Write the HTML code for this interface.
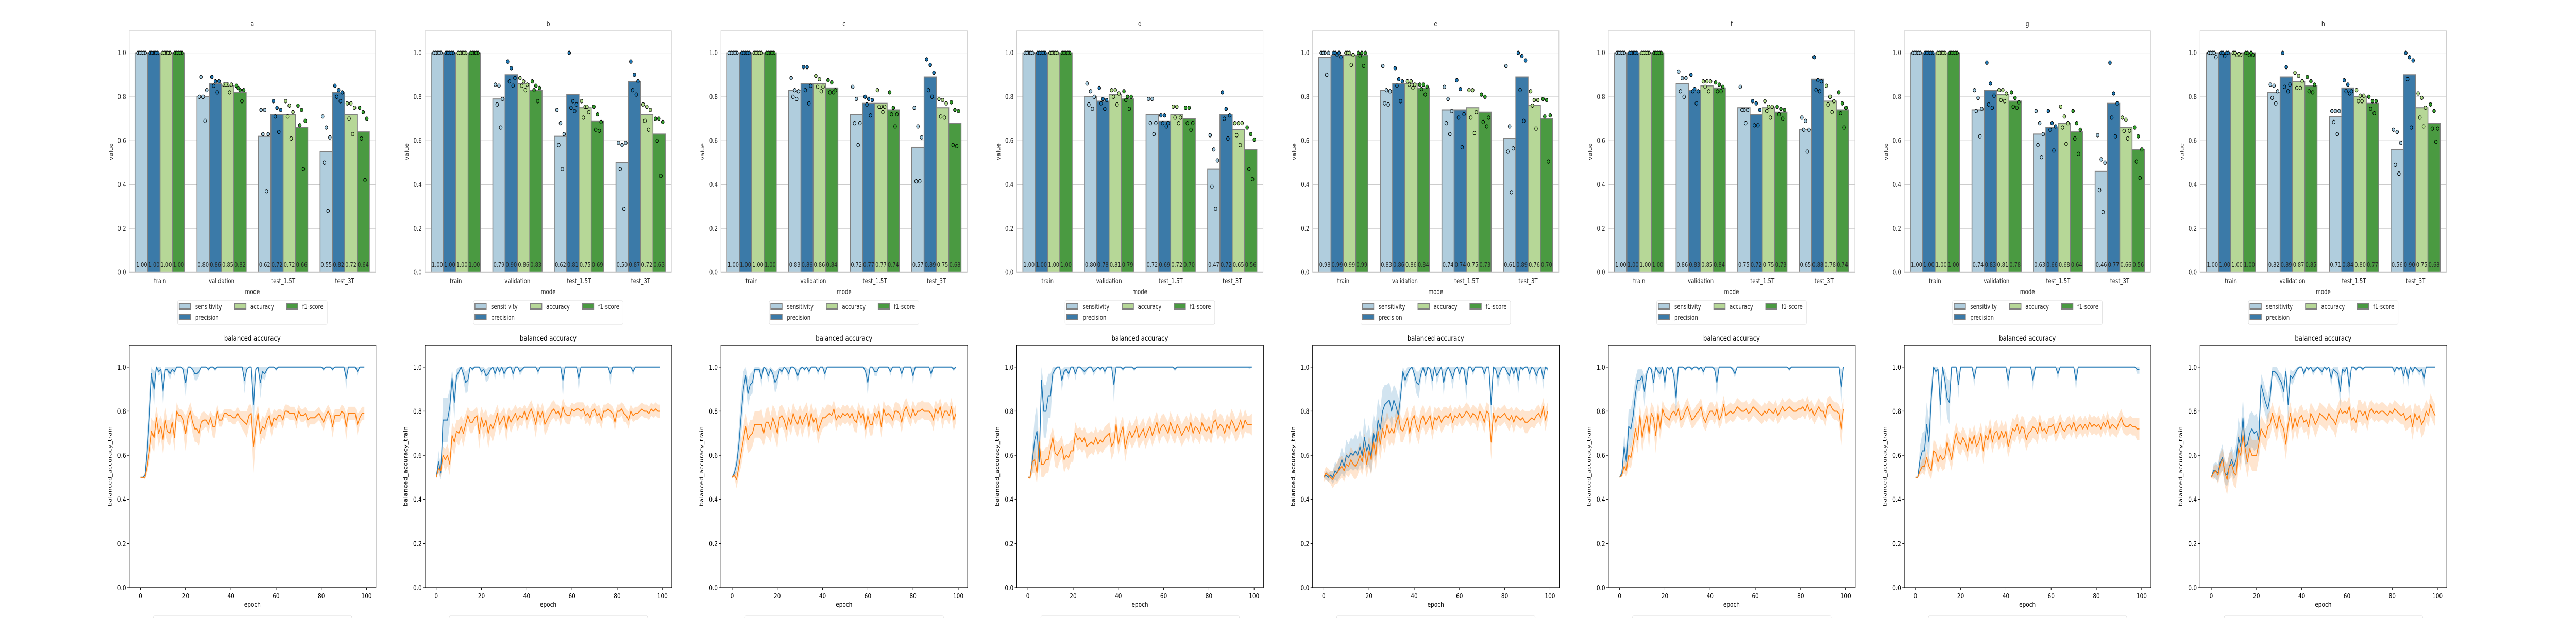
<!DOCTYPE html>
<html><head><meta charset="utf-8"><title>Metrics</title>
<style>
html,body{margin:0;padding:0;background:#fff;overflow:hidden;width:100vw;height:100vh;}
svg{display:block;width:100vw;height:100vh;font-family:"DejaVu Sans","Liberation Sans",sans-serif;}
</style></head>
<body>
<svg id="fig" viewBox="0 0 6400 1200" preserveAspectRatio="none" xmlns="http://www.w3.org/2000/svg"></svg>
<script>
// ---------- data ----------
const panelTitles = ['a','b','c','d','e','f','g','h'];
const modes = ['train','validation','test_1.5T','test_3T'];
const metrics = ['sensitivity','precision','accuracy','f1-score'];
const epochTicks = [0,20,40,60,80,100];
const valueTicks = ['0.0','0.2','0.4','0.6','0.8','1.0'];

// bar means per panel: [metric][mode]
const sensMeans = [[1,.80,.62,.55],[1,.79,.62,.50],[1,.83,.72,.57],[1,.80,.72,.47],[.98,.83,.74,.61],[1,.86,.75,.65],[1,.74,.63,.46],[1,.82,.71,.56]];
const precMeans = [[1,.86,.72,.82],[1,.90,.81,.87],[1,.86,.77,.89],[1,.78,.69,.72],[.99,.86,.74,.89],[1,.83,.72,.88],[1,.83,.66,.77],[1,.89,.84,.90]];
const accMeans  = [[1,.85,.72,.72],[1,.86,.75,.72],[1,.86,.77,.75],[1,.81,.72,.65],[.99,.86,.75,.76],[1,.85,.75,.78],[1,.81,.68,.66],[1,.87,.80,.75]];
const f1Means   = [[1,.82,.66,.64],[1,.83,.69,.63],[1,.84,.74,.68],[1,.79,.70,.56],[.99,.84,.73,.70],[1,.84,.73,.74],[1,.78,.64,.56],[1,.85,.77,.68]];

// individual fold points: [panel][mode][5]
const T=[1,1,1,1,1];
const sensDots = [
 [T,[.80,.80,.83,.89,.69],[.74,.74,.63,.63,.37],[.71,.66,.615,.50,.28]],
 [T,[.855,.85,.79,.765,.66],[.74,.68,.63,.58,.47],[.59,.58,.59,.47,.29]],
 [T,[.885,.83,.825,.80,.79],[.845,.79,.68,.68,.58],[.75,.665,.615,.415,.415]],
 [T,[.86,.825,.80,.765,.745],[.79,.79,.68,.68,.63],[.625,.56,.51,.39,.29]],
 [[1,1,1,1,.90],[.94,.83,.825,.77,.765],[.845,.79,.735,.68,.63],[.94,.665,.565,.55,.365]],
 [T,[.915,.885,.885,.825,.80],[.845,.74,.74,.74,.68],[.705,.69,.65,.65,.55]],
 [T,[.83,.795,.745,.735,.62],[.735,.68,.63,.58,.525],[.625,.515,.50,.375,.275]],
 [[1,1,.98,1,1],[.855,.85,.825,.795,.77],[.735,.735,.735,.685,.63],[.65,.64,.59,.49,.45]]];
const precDots = [
 [T,[.89,.87,.87,.85,.82],[.78,.75,.74,.71,.64],[.85,.83,.82,.80,.78]],
 [T,[.96,.93,.885,.87,.85],[1.0,.78,.765,.75,.735],[.96,.90,.87,.83,.81]],
 [T,[.935,.935,.85,.83,.77],[.80,.79,.785,.765,.715],[.97,.945,.91,.83,.80]],
 [T,[.84,.79,.785,.77,.745],[.715,.715,.68,.68,.665],[.82,.745,.715,.70,.61]],
 [[1,.99,.98,1,1],[.93,.88,.87,.85,.78],[.875,.835,.72,.705,.57],[1.0,.985,.965,.83,.69]],
 [T,[.90,.835,.825,.825,.77],[.78,.77,.74,.67,.67],[.98,.875,.87,.83,.825]],
 [T,[.955,.86,.805,.765,.75],[.735,.68,.665,.65,.555],[.955,.815,.77,.705,.62]],
 [[1,.985,1,1,1],[1.0,.935,.855,.845,.825],[.875,.855,.825,.825,.815],[1.0,.98,.965,.88,.66]]];
const accDots = [
 [T,[.855,.855,.855,.855,.82],[.78,.76,.73,.71,.61],[.77,.77,.75,.70,.63]],
 [T,[.885,.87,.855,.85,.83],[.78,.755,.73,.705,.755],[.765,.755,.74,.69,.65]],
 [T,[.895,.88,.845,.845,.825],[.83,.755,.755,.755,.73],[.79,.785,.77,.71,.705]],
 [T,[.83,.83,.815,.80,.765],[.755,.755,.705,.705,.68],[.68,.68,.68,.625,.58]],
 [[1,1,.99,1,.945],[.87,.87,.855,.855,.84],[.83,.83,.73,.705,.635],[.825,.785,.785,.76,.655]],
 [T,[.87,.87,.87,.845,.825],[.78,.755,.755,.735,.705],[.85,.80,.78,.765,.73]],
 [T,[.83,.83,.815,.785,.78],[.755,.71,.68,.66,.585],[.705,.695,.645,.645,.61]],
 [[1,.99,.99,1,.995],[.91,.895,.87,.84,.84],[.83,.805,.805,.78,.78],[.815,.795,.75,.705,.665]]];
const f1Dots = [
 [T,[.85,.83,.83,.84,.78],[.76,.74,.69,.67,.47],[.75,.73,.70,.61,.42]],
 [T,[.87,.85,.84,.83,.78],[.755,.72,.685,.65,.645],[.70,.70,.685,.60,.44]],
 [T,[.875,.865,.83,.82,.82],[.82,.75,.72,.72,.665],[.775,.74,.735,.58,.575]],
 [T,[.825,.80,.80,.785,.745],[.75,.75,.68,.68,.65],[.66,.63,.605,.47,.425]],
 [[1,1,1,.985,.94],[.855,.855,.845,.835,.81],[.81,.80,.705,.685,.665],[.79,.785,.715,.71,.505]],
 [T,[.865,.855,.845,.825,.825],[.755,.745,.74,.72,.70],[.82,.77,.75,.725,.66]],
 [T,[.82,.795,.775,.755,.75],[.735,.68,.65,.61,.54],[.66,.62,.56,.505,.43]],
 [[1,.99,.99,1,1],[.89,.87,.855,.825,.82],[.80,.78,.78,.745,.725],[.765,.735,.655,.655,.595]]];

// training curves (percent): train = blue, validation = orange; ci = half band width
const trainA=[50,50,51,62,78,97,90,100,98,99, 89,99,99,97,99,98,100,100,100,99, 93,100,100,99,97,97,98,100,100,100, 99,100,100,99,100,100,100,100,100,100, 100,100,100,100,100,100,94,99,100,100, 83,99,100,93,98,97,99,100,100,100, 99,100,100,100,100,100,100,100,100,100, 100,100,100,100,100,100,100,100,100,100, 100,99,100,100,100,99,100,100,100,100, 100,95,100,100,100,100,98,100,100,100];
const trainCiA=[0,0,1,8,10,3,8,1,2,2, 7,1,1,3,1,2,0,0,0,1, 6,0,0,1,3,3,2,0,0,0, 1,0,0,1,0,0,0,0,0,0, 0,0,0,0,0,0,6,1,0,0, 12,1,0,7,3,3,1,0,0,0, 1,0,0,0,0,0,0,0,0,0, 0,0,0,0,0,0,0,0,0,0, 0,1,0,0,0,1,0,0,0,0, 0,5,0,0,0,0,2,0,0,0];
const valA=[50,50,50,55,62,71,68,77,70,73, 67,76,71,70,75,68,80,78,78,76, 70,77,80,75,72,72,70,75,76,76, 74,77,73,73,80,76,76,79,79,78, 78,77,77,79,77,76,75,74,78,79, 64,73,79,70,73,72,76,78,73,77, 76,78,78,76,80,80,79,79,79,76, 80,78,78,79,76,77,77,77,78,79, 77,75,78,80,78,73,78,78,78,80, 79,73,79,79,79,79,74,77,79,79];
const valCiA=[0,0,1,3,5,6,7,5,6,5, 7,6,5,6,5,6,4,3,3,4, 8,4,4,5,6,6,6,4,4,3, 4,3,5,5,3,3,3,2,2,3, 3,3,3,3,3,4,5,6,5,4, 12,6,4,5,5,5,4,4,5,4, 4,3,3,4,3,3,3,3,3,4, 3,3,3,3,4,3,3,3,3,3, 3,4,3,3,3,5,3,3,3,3, 3,6,3,3,3,3,5,3,3,3];

const trainB=[50,57,52,76,76,76,82,95,84,96, 98,100,97,93,94,100,99,100,100,100, 98,99,96,97,99,100,97,100,98,100, 97,99,100,100,97,100,100,98,99,100, 100,100,100,100,100,98,100,100,100,100, 100,100,100,100,100,100,94,100,100,100, 100,100,100,95,100,100,100,100,100,100, 100,100,100,100,100,100,100,97,100,100, 100,100,100,100,100,100,100,98,100,100, 100,100,100,100,100,100,100,100,100,100];
const trainCiB=[0,5,3,10,10,10,8,4,8,3, 2,0,3,5,5,0,1,0,0,0, 2,1,3,3,1,0,3,0,2,0, 3,1,0,0,3,0,0,2,1,0, 0,0,0,0,0,2,0,0,0,0, 0,0,0,0,0,0,8,0,0,0, 0,0,0,6,0,0,0,0,0,0, 0,0,0,0,0,0,0,5,0,0, 0,0,0,0,0,0,0,2,0,0, 0,0,0,0,0,0,0,0,0,0];
const valB=[50,54,53,60,58,60,56,69,66,71, 70,73,70,74,78,75,75,77,78,70, 77,73,76,70,74,72,75,79,74,76, 78,72,78,75,77,79,76,78,77,80, 76,79,81,78,74,80,77,80,74,76, 78,80,81,79,80,77,82,79,78,78, 81,80,81,81,80,81,78,79,77,80, 81,78,79,76,80,80,81,80,79,75, 80,80,81,79,78,76,80,78,79,79, 80,81,80,80,79,81,80,81,80,80];
const valCiB=[0,2,3,4,5,5,5,6,6,5, 6,5,6,5,4,5,5,4,4,7, 5,6,5,7,5,6,5,4,5,4, 4,6,4,5,4,4,5,4,4,3, 5,4,4,4,6,4,4,4,5,5, 4,4,4,4,3,4,4,4,4,4, 3,3,3,3,4,3,4,4,4,3, 3,4,4,4,3,3,3,3,3,4, 3,3,3,4,3,4,3,3,3,3, 3,3,3,3,3,3,3,3,3,3];

const trainC=[50,52,56,65,78,90,96,88,92,93, 99,99,99,95,100,99,96,99,97,93, 95,99,98,100,99,97,100,100,99,96, 99,100,99,100,98,100,100,100,98,100, 100,97,100,100,100,100,100,100,100,100, 100,100,100,100,100,100,100,100,100,98, 93,100,100,98,98,100,100,100,100,100, 98,100,100,100,100,97,100,100,100,100, 96,100,100,100,100,100,100,100,97,100, 100,100,100,100,100,100,100,100,99,100];
const trainCiC=[0,2,4,8,10,8,4,6,5,5, 1,1,1,4,0,1,3,1,2,5, 4,1,2,0,1,3,0,0,1,3, 1,0,1,0,2,0,0,0,2,0, 0,3,0,0,0,0,0,0,0,0, 0,0,0,0,0,0,0,0,0,2, 6,0,0,2,2,0,0,0,0,0, 2,0,0,0,0,3,0,0,0,0, 4,0,0,0,0,0,0,0,3,0, 0,0,0,0,0,0,0,0,1,0];
const valC=[50,51,49,55,61,67,73,67,69,70, 74,74,74,74,70,75,75,72,77,74, 70,77,78,76,72,77,74,79,76,74, 78,74,77,79,73,79,75,77,71,74, 77,77,78,79,78,81,76,78,77,79, 78,79,77,79,76,75,80,77,79,72, 78,74,74,79,77,80,73,81,78,79, 78,76,80,80,79,75,80,82,79,77, 81,78,80,80,81,80,80,80,79,76, 81,79,82,77,80,80,78,82,76,79];
const valCiC=[0,1,4,4,6,6,6,6,7,6, 6,6,6,7,6,6,7,6,6,7, 7,5,5,5,6,5,5,5,5,6, 5,6,5,5,6,5,5,5,6,5, 5,4,5,4,4,4,5,4,4,4, 4,4,4,4,5,5,4,4,4,5, 4,5,5,4,4,4,5,4,4,4, 4,4,4,4,4,5,4,4,4,4, 4,4,4,4,4,4,4,4,4,5, 4,4,4,5,4,4,4,4,5,4];

const trainD=[50,50,58,67,71,57,94,80,80,87, 87,97,99,100,100,94,98,99,97,100, 100,97,100,100,99,98,99,100,100,98, 99,100,99,100,98,100,100,100,92,100, 100,100,99,100,100,100,100,99,100,100, 100,100,100,100,100,100,100,100,100,100, 100,100,100,100,100,99,100,100,100,100, 100,100,100,100,100,100,100,100,100,100, 100,100,100,100,100,100,100,100,100,100, 100,100,100,100,100,100,100,100,100,100];
const trainCiD=[0,0,6,10,12,7,6,12,12,10, 10,3,1,0,0,5,2,1,3,0, 0,3,0,0,1,2,1,0,0,2, 1,0,1,0,2,0,0,0,8,0, 0,0,1,0,0,0,0,1,0,0, 0,0,0,0,0,0,0,0,0,0, 0,0,0,0,0,1,0,0,0,0, 0,0,0,0,0,0,0,0,0,0, 0,0,0,0,0,0,0,0,0,0, 0,0,0,0,0,0,0,0,1,0];
const valD=[50,50,57,58,52,66,56,56,58,58, 63,68,61,60,62,64,58,60,59,62, 62,70,67,68,66,68,64,65,66,65, 68,65,67,66,68,69,70,64,66,74, 65,70,73,63,68,71,68,70,73,68, 70,72,68,71,73,69,72,75,70,73, 74,72,70,75,72,70,74,72,69,71, 73,71,75,70,73,72,70,75,72,71, 73,70,75,76,72,74,73,70,74,72, 76,74,71,73,76,72,76,74,74,74];
const valCiD=[0,1,5,6,5,7,6,6,6,6, 6,5,6,6,5,5,6,5,6,5, 5,5,5,5,5,5,6,5,5,5, 5,5,5,5,5,5,5,6,5,5, 5,5,5,6,5,5,5,5,5,5, 5,5,5,5,5,5,5,5,5,5, 5,5,5,5,5,5,5,5,5,5, 5,5,5,5,5,5,5,5,5,5, 5,5,5,5,5,5,5,5,5,5, 5,5,5,5,5,5,5,4,4,5];

const trainE=[50,51,50,51,50,53,52,55,58,55, 60,59,61,60,62,60,64,60,68,62, 65,59,70,66,76,72,80,83,84,85, 80,85,82,78,87,98,94,97,99,100, 97,93,92,97,100,96,100,99,94,100, 96,98,100,93,98,100,98,95,99,100, 97,100,99,92,100,100,98,100,100,100, 100,97,100,100,83,100,99,95,98,100, 100,98,96,100,97,100,94,100,99,100, 100,97,100,99,96,99,100,95,100,99];
const trainCiE=[0,2,2,2,3,4,4,5,6,5, 7,6,7,7,8,7,8,7,9,8, 9,8,9,9,10,9,10,9,8,8, 8,7,8,8,6,2,4,3,1,0, 3,5,6,3,0,4,0,1,5,0, 4,2,0,6,2,0,2,5,1,0, 3,0,1,7,0,0,2,0,0,0, 0,3,0,0,8,0,1,5,2,0, 0,2,4,0,3,0,6,0,1,0, 0,3,0,1,4,1,0,5,0,1];
const valE=[50,52,51,50,49,51,52,54,55,53, 56,55,58,56,55,57,60,57,63,56, 62,58,66,60,71,65,72,68,74,70, 72,70,75,78,72,71,74,77,70,76, 78,73,71,76,78,74,76,78,72,77, 76,78,75,77,78,77,79,75,78,77, 79,77,78,80,79,77,79,78,76,80, 78,75,80,79,66,79,75,78,77,78, 79,77,76,78,75,78,77,76,77,75, 75,76,77,76,78,79,77,82,76,80];
const valCiE=[2,3,3,3,4,4,5,5,5,5, 5,5,6,6,6,6,6,6,7,6, 7,7,7,7,7,7,7,7,6,6, 6,6,5,5,6,5,5,5,6,5, 5,5,6,5,5,5,5,5,5,5, 5,4,5,5,4,4,4,5,4,4, 4,4,4,4,4,4,4,4,5,4, 4,5,4,4,8,4,5,4,4,4, 4,4,5,4,5,4,4,4,4,5, 5,4,4,4,4,4,4,4,5,4];

const trainF=[50,52,64,57,73,72,78,88,94,94, 96,89,97,100,99,93,100,98,97,100, 93,100,99,100,96,86,100,100,100,99, 100,100,99,100,100,99,100,98,100,100, 100,100,99,93,100,100,100,100,100,100, 99,97,100,100,100,100,100,100,100,100, 100,100,100,100,100,100,100,100,100,100, 100,100,100,100,100,99,100,100,100,100, 100,100,100,100,100,100,100,100,100,100, 100,100,100,100,100,100,100,100,91,100];
const trainCiF=[0,2,6,5,8,9,9,7,5,5, 3,7,2,0,1,5,0,2,3,0, 5,0,1,0,3,10,0,0,0,1, 0,0,1,0,0,1,0,2,0,0, 0,0,1,7,0,0,0,0,0,0, 1,2,0,0,0,0,0,0,0,0, 0,0,0,0,0,0,0,0,0,0, 0,0,0,0,0,1,0,0,0,0, 0,0,0,0,0,0,0,0,0,0, 0,0,0,0,0,0,0,0,8,0];
const valF=[50,51,55,53,60,59,65,72,67,78, 68,74,78,70,79,77,69,79,72,81, 78,77,76,79,80,78,81,76,77,80, 82,79,76,77,79,80,82,77,75,78, 80,80,78,81,76,78,83,78,79,80, 79,80,82,81,80,80,81,79,80,82, 81,80,79,78,80,79,81,80,79,81, 78,80,82,80,81,82,81,80,80,81, 81,82,80,83,80,81,78,80,82,80, 80,77,82,83,81,80,80,79,72,81];
const valCiF=[0,1,3,3,5,5,5,6,6,5, 7,6,5,7,5,5,8,5,6,4, 4,4,4,4,4,4,4,4,4,4, 4,4,4,4,4,4,4,4,4,4, 4,4,4,4,4,4,4,4,4,4, 4,4,4,4,4,4,4,4,4,4, 4,4,4,4,4,4,4,4,4,4, 4,4,4,4,4,4,4,4,4,4, 4,4,4,4,4,4,4,4,4,4, 4,4,4,4,4,4,4,4,8,5];

const trainG=[50,50,58,62,62,74,66,86,100,98, 99,83,100,94,86,84,100,100,100,92, 100,100,100,100,100,100,95,100,100,100, 100,100,100,100,100,100,100,100,100,100, 100,94,100,100,100,100,100,100,100,100, 100,100,94,100,100,100,100,100,100,100, 100,100,100,97,100,100,100,100,100,100, 100,94,100,100,100,100,100,100,100,100, 100,100,100,100,100,100,100,100,100,100, 100,100,100,100,100,100,100,100,99,99];
const trainCiG=[0,0,6,8,9,10,10,8,0,2, 1,10,0,5,9,10,0,0,0,6, 0,0,0,0,0,0,4,0,0,0, 0,0,0,0,0,0,0,0,0,0, 0,5,0,0,0,0,0,0,0,0, 0,0,5,0,0,0,0,0,0,0, 0,0,0,3,0,0,0,0,0,0, 0,5,0,0,0,0,0,0,0,0, 0,0,0,0,0,0,0,0,0,0, 0,0,0,0,0,0,0,0,2,2];
const valG=[50,50,53,55,55,59,55,53,62,61, 57,60,58,59,66,62,58,65,70,66, 65,68,66,62,68,65,69,64,66,70, 62,69,67,72,66,70,71,67,71,68, 71,64,68,72,71,74,70,73,72,67, 70,71,73,72,70,75,71,72,70,73, 73,74,70,72,75,72,71,73,74,72, 75,71,73,74,72,74,72,75,73,74, 73,74,72,75,73,76,72,74,73,72, 75,77,74,73,73,74,73,73,72,72];
const valCiG=[0,0,2,3,4,4,4,4,5,5, 5,5,5,5,5,5,5,5,5,5, 5,5,5,5,5,5,5,5,5,5, 6,5,5,5,5,5,5,5,5,5, 5,5,5,5,5,5,5,5,5,5, 5,5,5,5,5,4,4,4,4,4, 4,4,4,4,4,4,4,4,4,4, 4,4,4,4,4,4,4,4,4,4, 4,4,4,4,4,4,4,4,4,4, 4,4,4,4,4,4,4,4,5,5];

const trainH=[50,53,53,52,57,59,52,51,55,58, 55,58,68,64,77,64,65,70,72,70, 71,67,92,88,84,81,86,98,98,97, 95,93,89,98,83,96,95,97,99,100, 100,97,100,99,100,98,99,100,99,98, 100,99,100,95,99,98,97,89,99,98, 100,91,100,100,99,100,100,99,100,100, 100,100,100,100,100,100,100,100,100,100, 100,98,100,99,100,96,100,95,100,98, 100,99,98,99,95,100,100,100,100,100];
const trainCiH=[0,3,4,4,5,6,5,5,6,6, 6,7,9,8,9,8,9,9,8,8, 8,8,5,6,6,6,6,2,2,3, 3,4,5,2,8,3,3,2,1,0, 0,2,0,1,0,2,1,0,1,2, 0,1,0,4,1,2,3,7,1,2, 0,6,0,0,1,0,0,1,0,0, 0,0,0,0,0,0,0,0,0,0, 0,2,0,1,0,4,0,4,0,2, 0,1,2,1,5,0,0,0,0,0];
const valH=[50,52,53,51,56,58,52,49,55,56, 52,51,63,60,69,63,57,63,60,60, 60,65,72,70,68,73,74,79,75,72, 78,74,72,65,74,79,72,77,73,77, 78,75,76,73,79,77,74,76,79,78, 77,76,79,77,76,74,78,81,79,80, 79,82,76,77,75,80,80,78,80,76, 80,81,79,80,79,80,80,79,78,80, 79,81,80,79,78,79,76,77,78,73, 79,76,78,74,76,80,78,83,80,78];
const valCiH=[0,3,3,4,5,5,6,7,6,6, 6,6,7,7,7,7,7,7,7,7, 7,7,6,6,6,6,6,5,5,6, 5,5,6,7,6,5,6,5,6,5, 5,5,5,6,5,5,6,5,5,5, 5,5,5,5,5,6,5,5,5,5, 5,5,5,5,5,5,5,5,5,5, 4,4,4,4,4,4,4,4,4,4, 4,4,4,4,4,5,5,5,5,6, 5,6,5,6,6,5,5,5,5,5];

const trainSeries=[trainA,trainB,trainC,trainD,trainE,trainF,trainG,trainH];
const trainCis=[trainCiA,trainCiB,trainCiC,trainCiD,trainCiE,trainCiF,trainCiG,trainCiH];
const valSeries=[valA,valB,valC,valD,valE,valF,valG,valH];
const valCis=[valCiA,valCiB,valCiC,valCiD,valCiE,valCiF,valCiG,valCiH];

// ---------- drawing ----------
const NS='http://www.w3.org/2000/svg';
const svg=document.getElementById('fig');
function mk(tag,attrs,parent){const e=document.createElementNS(NS,tag);for(const k in attrs)e.setAttribute(k,attrs[k]);(parent||svg).appendChild(e);return e;}
function txt(s,attrs,parent){const e=mk('text',attrs,parent);e.textContent=s;return e;}

const barFill=['#b0cddd','#3b7aa8','#b6d797','#4a9a41'];
const dotFill=['#a6cee3','#1f78b4','#b2df8a','#33a02c'];
const allMeans=[sensMeans,precMeans,accMeans,f1Means];
const allDots=[sensDots,precDots,accDots,f1Dots];
const jit=[-9,0,9,-4.5,4.5];
const PERIOD=735, X0=321, AW=612;
const TT=60, TB=529, BT=670, BB=1141;
const yTop=v=>TB-v*(TB-TT)/1.1;
const yBot=v=>BB-v*(BB-BT)/1.1;

for(let p=0;p<8;p++){
  const ox=X0+PERIOD*p;
  const g=mk('g',{});
  
  

  // ===== top bar chart =====
  const top=mk('g',{},g);
  
  
  for(let i=0;i<valueTicks.length;i++){
    const v=parseFloat(valueTicks[i]);const y=yTop(v);
    const gl=mk('line',{x1:ox,x2:ox+AW,y1:y,y2:y,stroke:'#cccccc','stroke-width':1},top);
    
    
    const tl=txt(valueTicks[i],{x:ox-8,y:y+4.5,'text-anchor':'end','font-size':13,fill:'#262626'},top);
    
    
  }
  const band=AW/4, bw=band*0.8/4;
  for(let m=0;m<4;m++){
    const cx=ox+band*(m+0.5);
    for(let k=0;k<4;k++){
      const v=allMeans[k][p][m];
      const bx=cx+(k-1.5)*bw-bw/2;
      const r=mk('rect',{x:bx,y:yTop(v),width:bw,height:TB-yTop(v),fill:barFill[k],stroke:'#808080','stroke-width':2},top);
      
      
    }
    for(let k=0;k<4;k++){
      const v=allMeans[k][p][m];
      const bc=cx+(k-1.5)*bw;
      const lab=txt(v.toFixed(2),{x:bc,y:518,'text-anchor':'middle','font-size':12.5,fill:'#262626'},top);
      
      
      const ds=allDots[k][p][m];
      for(let d=0;d<ds.length;d++){
        const c=mk('circle',{cx:bc+jit[d],cy:yTop(ds[d]),r:3.6,fill:dotFill[k],stroke:'#000','stroke-width':1.1},top);
        
        
      }
    }
    const xl=txt(modes[m],{x:cx,y:550,'text-anchor':'middle','font-size':13,fill:'#262626'},top);
    
    
  }
  const fr=mk('rect',{x:ox,y:TT,width:AW,height:TB-TT,fill:'none',stroke:'#cccccc','stroke-width':1.3},top);
  
  
  const bl=mk('line',{x1:ox,x2:ox+AW,y1:TB,y2:TB,stroke:'#cccccc','stroke-width':2.5},top);
  
  
  const tt=txt(panelTitles[p],{x:ox+AW/2,y:51,'text-anchor':'middle','font-size':14,fill:'#262626'},top);
  
  
  const xt=txt('mode',{x:ox+AW/2,y:571,'text-anchor':'middle','font-size':13,fill:'#262626'},top);
  
  
  const yt=txt('value',{x:0,y:0,'text-anchor':'middle','font-size':12,fill:'#262626',transform:'translate('+(ox-41)+','+((TT+TB)/2)+') rotate(-90)'},top);
  
  
  // legend
  const lg=mk('g',{},top);
  
  
  const lb=mk('rect',{x:ox+120,y:584,width:372,height:46,rx:3,fill:'#fff',stroke:'#dddddd','stroke-width':1},lg);
  
  
  const lpos=[[124,590],[124,611],[262,590],[391,590]];
  const tx=[164,164,301,430];
  for(let k=0;k<4;k++){
    const h=mk('rect',{x:ox+lpos[k][0],y:lpos[k][1],width:28,height:10,fill:barFill[k],stroke:'#808080','stroke-width':2},lg);
    
    
    const t=txt(metrics[k],{x:ox+tx[k],y:lpos[k][1]+10,'font-size':13,fill:'#262626'},lg);
    
    
  }

  // ===== bottom line chart =====
  const bot=mk('g',{},g);
  
  
  const xE=e=>ox+(e+4.95)*AW/108.9;
  const series=[[trainSeries[p],trainCis[p],'#1f77b4','train'],[valSeries[p],valCis[p],'#ff7f0e','validation']];
  for(const [vals,ci,col,nm] of series){
    let up='',dn='';
    for(let i=0;i<vals.length;i++){up+=(i?'L':'M')+xE(i).toFixed(1)+','+yBot(Math.min(vals[i]+ci[i],100)/100).toFixed(1);}
    for(let i=vals.length-1;i>=0;i--){dn+='L'+xE(i).toFixed(1)+','+yBot((vals[i]-ci[i])/100).toFixed(1);}
    const b=mk('path',{d:up+dn+'Z',fill:col,'fill-opacity':0.2,stroke:'none'},bot);
    
    
  }
  for(const [vals,ci,col,nm] of series){
    let d='';
    for(let i=0;i<vals.length;i++){d+=(i?'L':'M')+xE(i).toFixed(1)+','+yBot(vals[i]/100).toFixed(1);}
    const l=mk('path',{d:d,fill:'none',stroke:col,'stroke-width':2,'stroke-linejoin':'round'},bot);
    
    
  }
  const bf=mk('rect',{x:ox,y:BT,width:AW+1,height:BB-BT,fill:'none',stroke:'#000','stroke-width':1.3},bot);
  
  
  for(let i=0;i<valueTicks.length;i++){
    const y=yBot(parseFloat(valueTicks[i]));
    const tk=mk('line',{x1:ox-5,x2:ox,y1:y,y2:y,stroke:'#000','stroke-width':1.2},bot);
    
    
    const tl=txt(valueTicks[i],{x:ox-8,y:y+5,'text-anchor':'end','font-size':13.5,fill:'#000'},bot);
    
    
  }
  for(let i=0;i<epochTicks.length;i++){
    const x=xE(epochTicks[i]);
    const tk=mk('line',{x1:x,x2:x,y1:BB,y2:BB+5,stroke:'#000','stroke-width':1.2},bot);
    
    
    const tl=txt(String(epochTicks[i]),{x:x,y:BB+21,'text-anchor':'middle','font-size':13.5,fill:'#000'},bot);
    
    
  }
  const bt=txt('balanced accuracy',{x:ox+AW/2,y:662,'text-anchor':'middle','font-size':15,fill:'#000'},bot);
  
  
  const ex=txt('epoch',{x:ox+AW/2,y:1178,'text-anchor':'middle','font-size':13.5,fill:'#000'},bot);
  
  
  const ey=txt('balanced_accuracy_train',{x:0,y:0,'text-anchor':'middle','font-size':12.5,fill:'#000',transform:'translate('+(ox-44)+','+((BT+BB)/2)+') rotate(-90)'},bot);
  
  
  const bl2=mk('rect',{x:ox+60,y:1196,width:493,height:40,rx:3,fill:'#fff',stroke:'#dddddd','stroke-width':1},bot);
  
  
}
</script>
</body></html>
